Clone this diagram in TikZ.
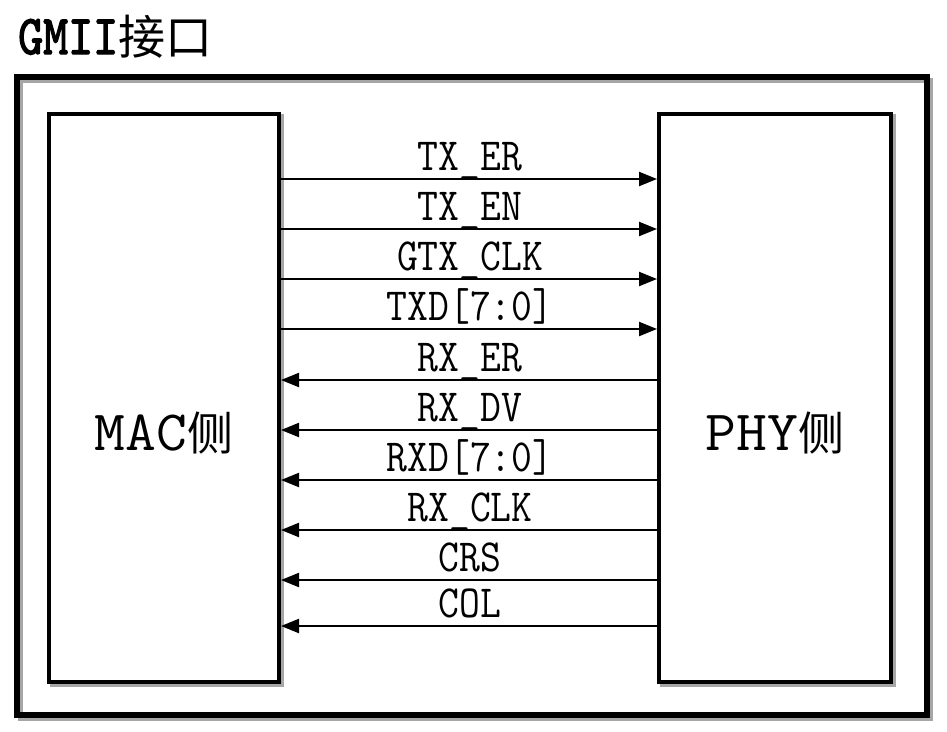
\documentclass[tikz,border=0pt]{standalone}
\usepackage{fontspec}
\usepackage{graphicx}
\setmainfont{Liberation Serif}
\newfontfamily\titlemono{lmmono10-regular.otf}[FakeBold=2.5]
\newfontfamily\cjk{Noto Sans CJK SC}
\usetikzlibrary{arrows.meta}
\newcommand\siglab[1]{\scalebox{0.88}[1]{\fontsize{46}{46}\selectfont\ttfamily #1}}
\newcommand\sidelab[2]{\scalebox{1.05}[1]{\fontsize{57}{57}\selectfont\ttfamily #1}{\fontsize{46}{46}\selectfont\cjk #2}}
\begin{document}
\begin{tikzpicture}[x=1pt,y=-1pt,
  box/.style={draw,line width=4pt,inner sep=0pt,fill=white},
  shadowline/.style={draw=black!35,line width=5pt},
  sig/.style={line width=2.2pt},
  tip/.style={-{Triangle[length=18pt,width=14pt]}},
  lab/.style={anchor=base,inner sep=0pt}]
\useasboundingbox (0,0) rectangle (947,731);
% title
\node[anchor=base west,inner sep=0pt] (title) at (18,54)
  {\scalebox{0.85}[1]{\fontsize{56}{56}\selectfont\titlemono GMII}{\fontsize{47}{47}\selectfont\cjk 接口}};
% outer frame
\draw[shadowline] (20,80) rectangle (930,718);
\draw[line width=5.5pt] (17,77) rectangle (927,715);
% boxes
\draw[draw=black!35,line width=4pt] (51.5,116) rectangle (281.5,684.5);
\draw[draw=black!35,line width=4pt] (661.5,116) rectangle (893.5,684.5);
\node[box,minimum width=230pt,minimum height=568.5pt] (mac) at (164,397.75) {};
\node[box,minimum width=232pt,minimum height=568.5pt] (phy) at (775,397.75) {};
\node[lab] (maclab) at (164,450) {\sidelab{MAC}{侧}};
\node[lab] (phylab) at (775,450) {\sidelab{PHY}{侧}};
% transmit signals
\foreach \y/\t [count=\i] in {179/TX\_ER,229/TX\_EN,279/GTX\_CLK,329/TXD[7:0]}{
  \node[lab] (t\i) at (470,\y-9) {\siglab{\t}};
  \draw[sig,tip] (mac.east |- 0,\y) -- (phy.west |- 0,\y);
}
% receive signals
\foreach \y/\t [count=\i] in {380/RX\_ER,430/RX\_DV,480/RXD[7:0],530/RX\_CLK,580/CRS,626/COL}{
  \node[lab] (r\i) at (470,\y-9) {\siglab{\t}};
  \draw[sig,tip] (phy.west |- 0,\y) -- (mac.east |- 0,\y);
}
\end{tikzpicture}
\end{document}
